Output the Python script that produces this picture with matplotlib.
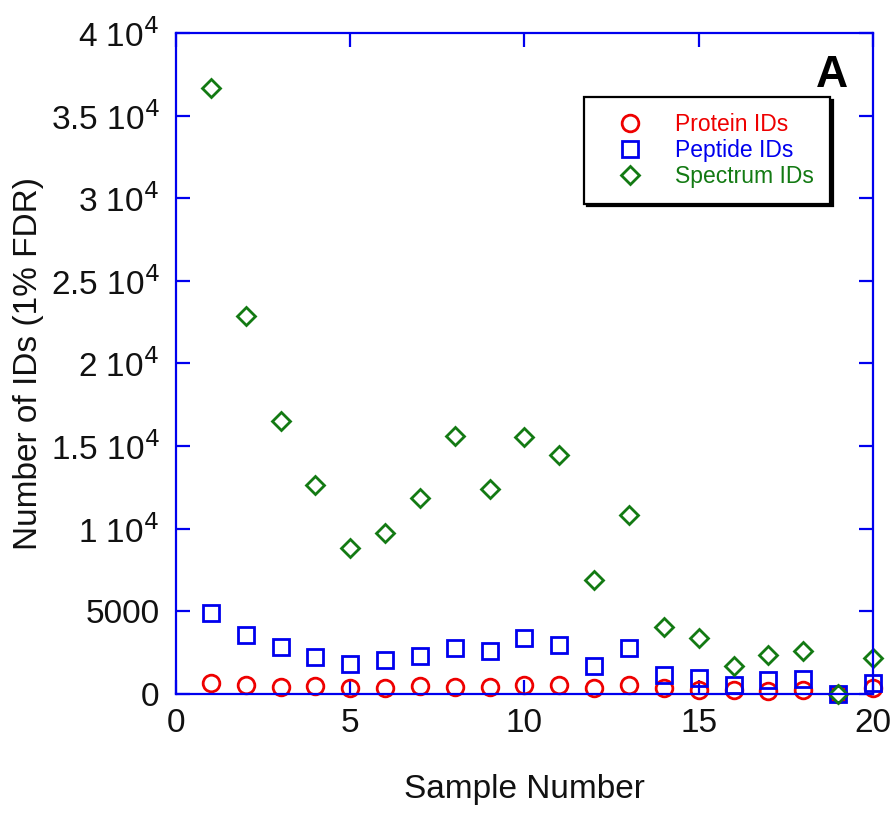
import matplotlib.pyplot as plt
from matplotlib.ticker import FixedLocator, FixedFormatter

plt.rcParams['font.family'] = ['Liberation Sans', 'DejaVu Sans']

# Identification counts per sample (1% FDR)
samples = list(range(1, 21))
protein_ids = [650, 545, 440, 484, 343, 343, 484, 440, 440, 545,
               545, 343, 545, 343, 242, 242, 200, 242, 0, 343]
peptide_ids = [4920, 3570, 2860, 2260, 1820, 2060, 2300, 2760, 2620, 3400,
               2960, 1700, 2760, 1150, 950, 545, 850, 890, 0, 650]
spectrum_ids = [36700, 22900, 16550, 12650, 8850, 9750, 11850, 15600, 12400, 15550,
                14450, 6900, 10850, 4050, 3390, 1700, 2370, 2620, 0, 2180]

y_ticks = [0, 5000, 10000, 15000, 20000, 25000, 30000, 35000, 40000]
y_tick_labels = ['0', '5000', '1 10$^{4}$', '1.5 10$^{4}$', '2 10$^{4}$',
                 '2.5 10$^{4}$', '3 10$^{4}$', '3.5 10$^{4}$', '4 10$^{4}$']

fig = plt.figure(figsize=(8.96, 8.13), dpi=100)
ax = fig.add_axes([0.1964, 0.1464, 0.7779, 0.813])

ax.plot(samples, protein_ids, 'o', ms=12, mfc='none', mec='#ee0000', mew=2,
        clip_on=False, label='Protein IDs')
ax.plot(samples, peptide_ids, 's', ms=12, mfc='none', mec='#0000ee', mew=2,
        clip_on=False, label='Peptide IDs')
ax.plot(samples, spectrum_ids, 'D', ms=9, mfc='none', mec='#137a13', mew=2,
        clip_on=False, label='Spectrum IDs')

ax.set_xlim(0, 20)
ax.set_ylim(0, 40000)
ax.xaxis.set_major_locator(FixedLocator([0, 5, 10, 15, 20]))
ax.yaxis.set_major_locator(FixedLocator(y_ticks))
ax.yaxis.set_major_formatter(FixedFormatter(y_tick_labels))

for side in ax.spines.values():
    side.set_color('#0000ee')
    side.set_linewidth(1.6)
ax.tick_params(direction='in', length=10, width=1.6, color='#0000ee',
               top=True, right=True, labelsize=24, labelcolor='#111111')
ax.tick_params(axis='x', pad=10)
ax.tick_params(axis='y', pad=12)

ax.set_xlabel('Sample Number', fontsize=24, labelpad=25, color='#111111')
ax.set_ylabel('Number of IDs (1% FDR)', fontsize=24, labelpad=5, color='#111111')

leg = ax.legend(loc='upper left', bbox_to_anchor=(0.586, 0.903), fontsize=16.5,
                frameon=True, fancybox=False, edgecolor='black', framealpha=1,
                shadow={'ox': 2, 'oy': -2, 'color': 'black', 'alpha': 1},
                handletextpad=0.65, borderpad=0.7, labelspacing=0.12,
                handlelength=2.6, borderaxespad=0)
leg.get_frame().set_linewidth(1.6)
for txt, line in zip(leg.get_texts(), leg.get_lines()):
    txt.set_color(line.get_markeredgecolor())

ax.text(0.964, 0.967, 'A', transform=ax.transAxes, fontsize=32,
        fontweight='bold', ha='right', va='top')

fig.savefig('out.png', dpi=100)
